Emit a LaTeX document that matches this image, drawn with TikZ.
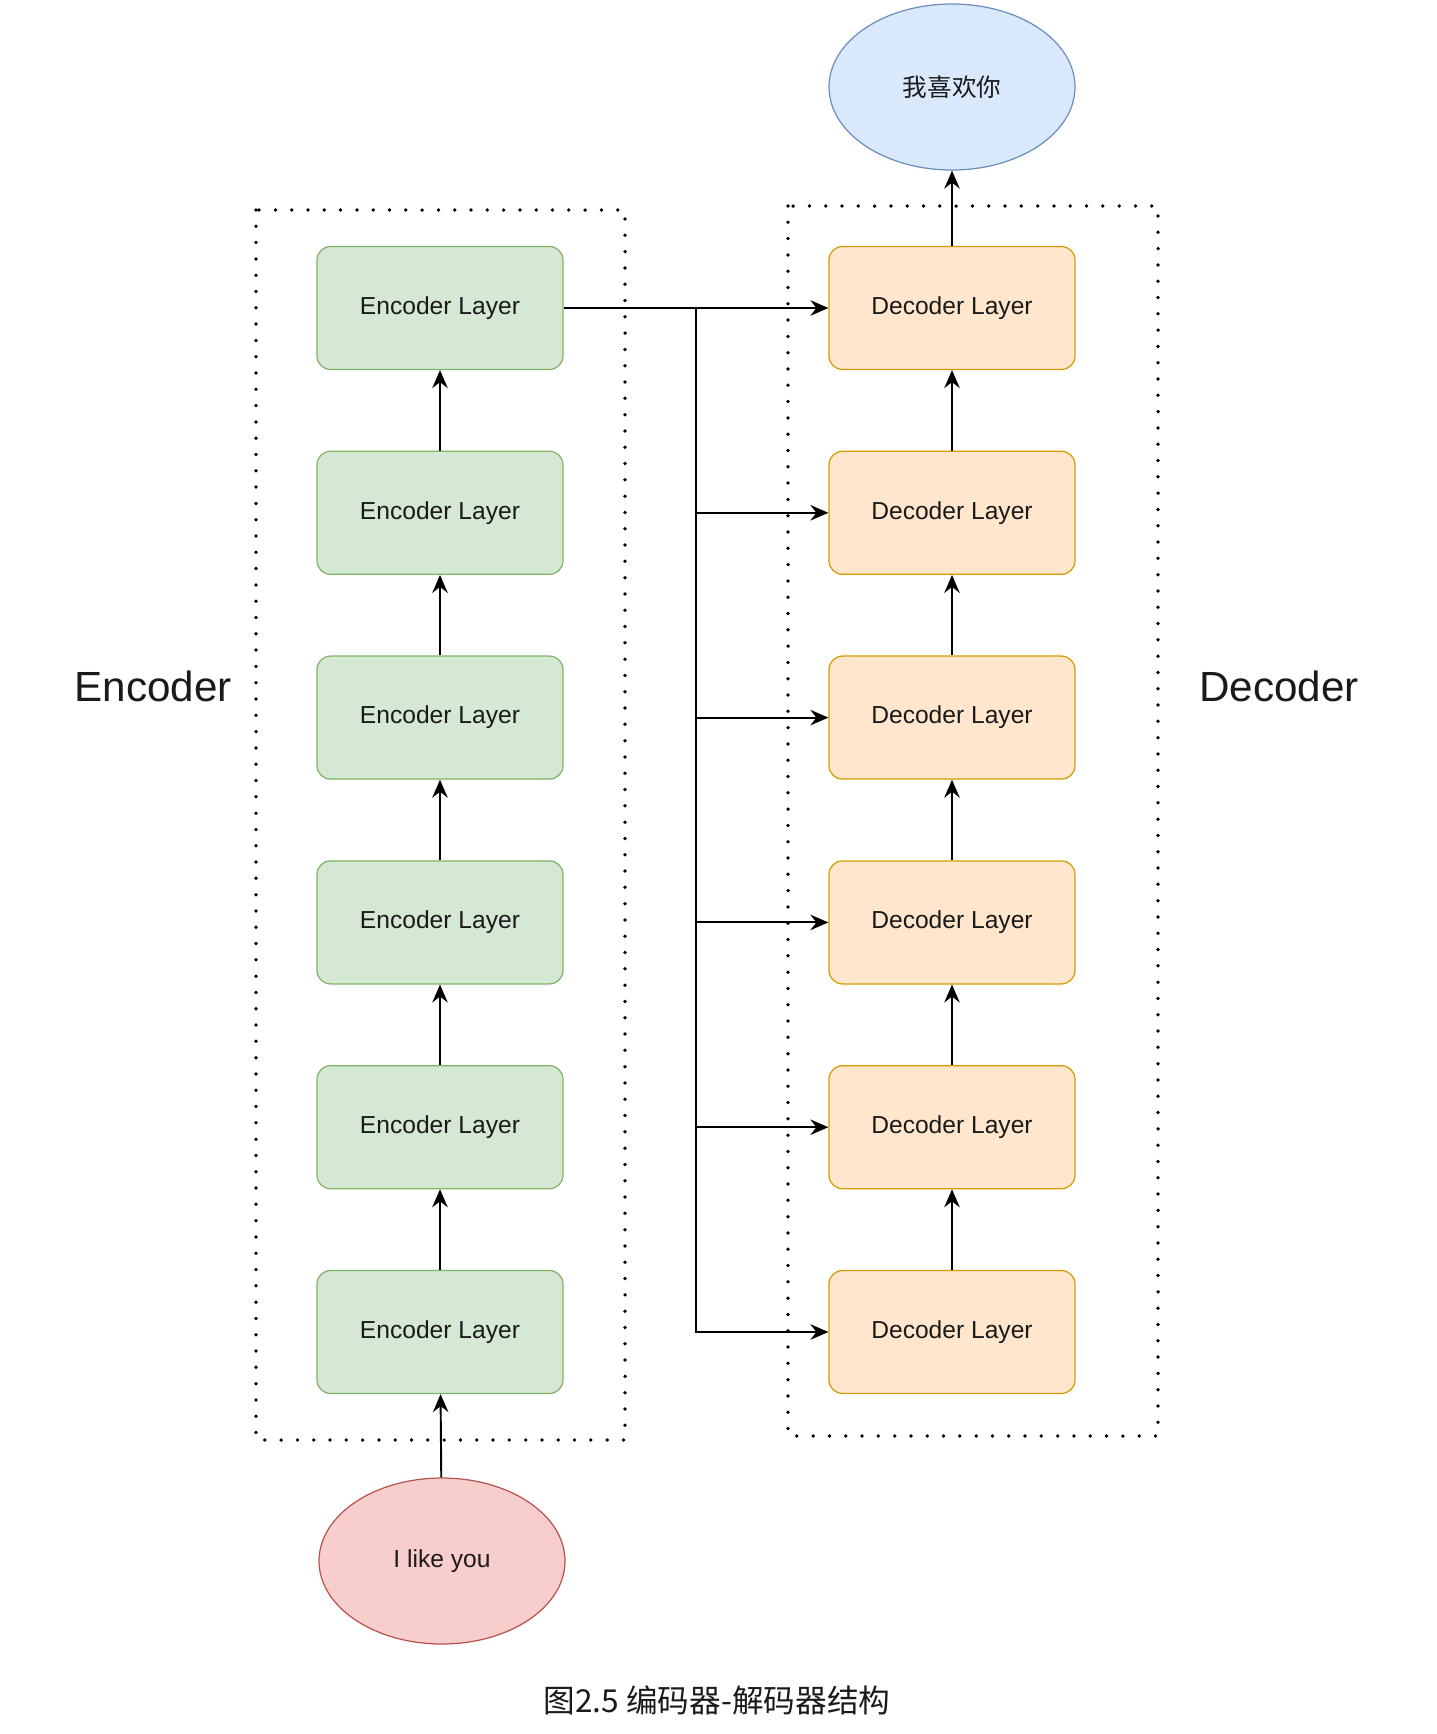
\documentclass[tikz,border=0pt]{standalone}
\usepackage{fontspec}
\setmainfont{Liberation Sans}
\newfontfamily\cjk{Noto Sans CJK SC}
\usetikzlibrary{arrows.meta,shapes.geometric}

\definecolor{encfill}{HTML}{D5E8D4}
\definecolor{encline}{HTML}{82B366}
\definecolor{decfill}{HTML}{FFE6CC}
\definecolor{decline}{HTML}{D79B00}
\definecolor{infill}{HTML}{F8CECC}
\definecolor{inline}{HTML}{B85450}
\definecolor{outfill}{HTML}{DAE8FC}
\definecolor{outline}{HTML}{6C8EBF}
\definecolor{ink}{HTML}{1A1A1A}

\begin{document}
\begin{tikzpicture}[x=0.2mm,y=-0.2mm,
  layer/.style={draw, rounded corners=0.27cm, minimum width=4.92cm, minimum height=2.46cm,
    line width=0.7pt, text=ink, font=\fontsize{14}{16}\selectfont},
  enclayer/.style={layer, fill=encfill, draw=encline},
  declayer/.style={layer, fill=decfill, draw=decline},
  word/.style={ellipse, draw, minimum width=4.92cm, minimum height=3.32cm, inner sep=0pt,
    line width=0.7pt, text=ink, font=\fontsize{14}{16}\selectfont},
  arr/.style={-{Stealth[length=0.36cm,width=0.31cm,inset=0.12cm]}, line width=1.1pt},
  frame/.style={line width=0.075cm, line cap=round, dash pattern=on 0pt off 0.326cm},
  title/.style={text=ink, font=\fontsize{24}{28}\selectfont}]
 \useasboundingbox (0,0) rectangle (1436,1734);
% the two stacks, bottom layer first
 \foreach \i in {1,...,6} {
   \node[enclayer] (enc\i) at (440,{1332-204.8*(\i-1)}) {Encoder Layer};
   \node[declayer] (dec\i) at (952,{1332-204.8*(\i-1)}) {Decoder Layer};
 }
 \node[word, fill=infill, draw=inline] (input) at (442,1561) {I like you};
 \node[word, fill=outfill, draw=outline, font=\cjk\fontsize{14}{16}\selectfont] (output) at (952,87) {我喜欢你};
% dotted frames
 \draw[frame] (256,210) rectangle (625,1440);
 \draw[frame] (788,206) rectangle (1158,1436);
 \node[title] (enclabel) at (153,686) {Encoder};
 \node[title] (declabel) at (1279,686) {Decoder};
% arrows
 \draw[arr] (input) -- (enc1);
 \foreach \i/\j in {1/2,2/3,3/4,4/5,5/6} {
   \draw[arr] (enc\i) -- (enc\j);
   \draw[arr] (dec\i) -- (dec\j);
 }
 \draw[arr] (dec6) -- (output);
 \coordinate (split) at (696,308);
 \draw[arr] (enc6) -- (dec6);
 \foreach \i in {1,...,5} \draw[arr] (split) |- (dec\i.west);
 \node[text=ink, font=\cjk\fontsize{18}{22}\selectfont] (caption) at (717,1700) {图2.5 编码器-解码器结构};
\end{tikzpicture}
\end{document}
